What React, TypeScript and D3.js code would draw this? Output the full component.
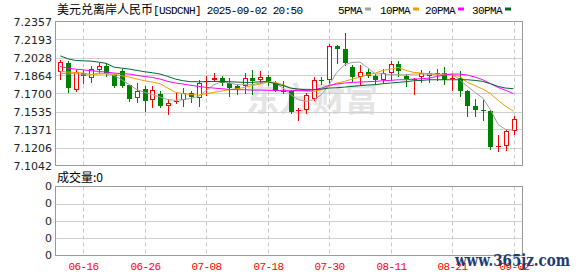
import React from 'react';
import * as d3 from 'd3';

const dates = [
  '06-11','06-12','06-13','06-16','06-17','06-18','06-19','06-20','06-23','06-24','06-25','06-26','06-27','06-30',
  '07-01','07-02','07-03','07-04','07-07','07-08','07-09','07-10','07-11','07-14','07-15','07-16','07-17','07-18',
  '07-21','07-22','07-23','07-24','07-25','07-28','07-29','07-30','07-31',
  '08-01','08-04','08-05','08-06','08-07','08-08','08-11','08-12','08-13','08-14','08-15','08-18','08-19','08-20',
  '08-21','08-22','08-25','08-26','08-27','08-28','08-29','09-01','09-02'
];

const opens = [
  7.1900,7.1980,7.1734,7.1886,7.1840,7.1910,7.1952,7.1864,7.1901,7.1773,
  7.1658,7.1740,7.1640,7.1698,7.1582,7.1618,7.1637,7.1704,7.1658,7.1804,
  7.1819,7.1840,7.1795,7.1765,7.1770,7.1840,7.1819,7.1850,7.1795,7.1725,
  7.1719,7.1537,7.1552,7.1652,7.1825,7.1819,7.2134,7.2104,7.1946,7.1850,
  7.1895,7.1861,7.1825,7.1886,7.1971,7.1861,7.1819,7.1846,7.1855,7.1880,
  7.1891,7.1831,7.1840,7.1719,7.1588,7.1552,7.1537,7.1209,7.1224,7.1355
];
const highs = [
  7.2007,7.1992,7.1910,7.1916,7.1952,7.1977,7.1977,7.1877,7.1925,7.1780,
  7.1795,7.1764,7.1764,7.1719,7.1649,7.1704,7.1750,7.1719,7.1825,7.1861,
  7.1891,7.1855,7.1840,7.1786,7.1884,7.1916,7.1901,7.1871,7.1810,7.1810,
  7.1734,7.1567,7.1704,7.1850,7.1850,7.2153,7.2143,7.2255,7.1962,7.1962,
  7.1922,7.1880,7.1922,7.1992,7.1992,7.1880,7.1840,7.1910,7.1901,7.1922,
  7.1941,7.1871,7.1901,7.1734,7.1649,7.1643,7.1546,7.1324,7.1370,7.1497
];
const lows = [
  7.1834,7.1709,7.1719,7.1795,7.1800,7.1886,7.1861,7.1755,7.1761,7.1628,
  7.1618,7.1537,7.1577,7.1577,7.1513,7.1613,7.1582,7.1618,7.1582,7.1688,
  7.1810,7.1780,7.1679,7.1695,7.1707,7.1698,7.1795,7.1780,7.1719,7.1704,
  7.1522,7.1461,7.1522,7.1643,7.1789,7.1795,7.1977,7.1962,7.1810,7.1789,
  7.1850,7.1789,7.1800,7.1825,7.1861,7.1770,7.1698,7.1800,7.1800,7.1825,
  7.1789,7.1728,7.1673,7.1497,7.1497,7.1461,7.1194,7.1173,7.1188,7.1334
];
const closes = [
  7.1986,7.1750,7.1895,7.1855,7.1922,7.1952,7.1877,7.1764,7.1764,7.1652,
  7.1725,7.1634,7.1731,7.1582,7.1613,7.1631,7.1704,7.1668,7.1795,7.1816,
  7.1840,7.1795,7.1750,7.1745,7.1843,7.1816,7.1850,7.1816,7.1725,7.1709,
  7.1527,7.1546,7.1682,7.1825,7.1813,7.2134,7.2110,7.1982,7.1850,7.1895,
  7.1861,7.1819,7.1891,7.1971,7.1901,7.1834,7.1831,7.1891,7.1891,7.1891,
  7.1825,7.1840,7.1719,7.1588,7.1546,7.1540,7.1209,7.1224,7.1361,7.1467
];

const ma5 = [
  7.1886,7.1877,7.1886,7.1871,7.1868,7.1886,7.1880,7.1865,7.1825,7.1780,
  7.1734,7.1710,7.1689,7.1667,7.1643,7.1637,7.1643,7.1655,7.1673,7.1728,
  7.1780,7.1807,7.1795,7.1780,7.1780,7.1780,7.1795,7.1810,7.1795,7.1749,
  7.1689,7.1643,7.1628,7.1643,7.1689,7.1780,7.1892,7.1962,7.1983,7.1986,
  7.1937,7.1877,7.1880,7.1871,7.1871,7.1871,7.1877,7.1877,7.1877,7.1871,
  7.1871,7.1877,7.1825,7.1764,7.1710,7.1658,7.1552,7.1416,7.1370,7.1364
];
const ma10 = [
  7.1901,7.1895,7.1892,7.1886,7.1871,7.1877,7.1880,7.1877,7.1861,7.1849,
  7.1831,7.1816,7.1804,7.1789,7.1749,7.1710,7.1698,7.1689,7.1686,7.1698,
  7.1710,7.1722,7.1734,7.1743,7.1755,7.1771,7.1786,7.1804,7.1801,7.1780,
  7.1749,7.1734,7.1719,7.1719,7.1734,7.1764,7.1795,7.1810,7.1831,7.1849,
  7.1871,7.1886,7.1910,7.1922,7.1937,7.1910,7.1892,7.1886,7.1880,7.1877,
  7.1877,7.1871,7.1855,7.1801,7.1771,7.1740,7.1698,7.1637,7.1582,7.1537
];
const ma20 = [
  7.1946,7.1931,7.1922,7.1916,7.1907,7.1901,7.1895,7.1886,7.1880,7.1877,
  7.1865,7.1855,7.1846,7.1831,7.1810,7.1795,7.1786,7.1774,7.1764,7.1755,
  7.1749,7.1743,7.1737,7.1734,7.1734,7.1731,7.1731,7.1728,7.1728,7.1725,
  7.1725,7.1728,7.1728,7.1734,7.1749,7.1774,7.1786,7.1795,7.1801,7.1804,
  7.1807,7.1810,7.1816,7.1819,7.1825,7.1825,7.1831,7.1834,7.1840,7.1855,
  7.1868,7.1877,7.1877,7.1868,7.1849,7.1825,7.1789,7.1755,7.1728,7.1698
];
const ma30 = [
  7.2043,7.2016,7.2001,7.1998,7.1995,7.1986,7.1974,7.1940,7.1931,7.1922,
  7.1910,7.1898,7.1889,7.1877,7.1855,7.1831,7.1816,7.1807,7.1807,7.1807,
  7.1810,7.1810,7.1807,7.1804,7.1801,7.1801,7.1807,7.1807,7.1789,7.1771,
  7.1749,7.1740,7.1734,7.1734,7.1740,7.1749,7.1752,7.1758,7.1764,7.1771,
  7.1777,7.1780,7.1789,7.1795,7.1801,7.1807,7.1816,7.1819,7.1825,7.1825,
  7.1825,7.1825,7.1825,7.1825,7.1819,7.1810,7.1789,7.1764,7.1749,7.1743
];

const priceTicks = [7.2357, 7.2193, 7.2028, 7.1864, 7.1700, 7.1535, 7.1371, 7.1206, 7.1042];
const xTickLabels = ['06-16', '06-26', '07-08', '07-18', '07-30', '08-11', '08-21', '09-02'];
const volTickLabels = ['0', '0', '0', '0', '0'];
const legendNames = ['5PMA', '10PMA', '20PMA', '30PMA'];
const legendColors = ['#a0a0a0', '#f0a000', '#ff00ff', '#006633'];
const titleCn = '美元兑离岸人民币';
const titleCode = '[USDCNH] 2025-09-02 20:50';
const volumeLabel = '成交量:0';

const MONO = '"Liberation Mono", "DejaVu Sans Mono", monospace';
const SANS = '"DejaVu Sans", Verdana, sans-serif';
const CJK = '"Noto Sans CJK SC", "Noto Sans", sans-serif';

export default function App() {
  const W = 578, H = 276;
  const L = 55.5, R = 522.5, T = 21.5, B = 165.5;
  const VT = 186.5, VB = 255.5;

  const x = d3.scalePoint<string>().domain(dates).range([60.3, 513.5]);
  const y = d3.scaleLinear().domain([7.1042, 7.2357]).range([B, T]);
  const vy = d3.scaleLinear().domain([0, volTickLabels.length - 1]).range([VB, VT]);
  const px = (d: string) => Math.round(x(d) as number);

  const line = d3.line<number>()
    .x((_, i) => (x(dates[i]) as number))
    .y((v) => y(v));

  const mas = [ma5, ma10, ma20, ma30];
  const legendX = [338, 380, 425, 472];
  const legendW = [24, 30, 30, 30];

  return (
    <svg width={W} height={H} style={{ position: 'absolute', left: 0, top: 0, background: '#fff' }}>
      <rect x={0} y={0} width={W} height={H} fill="#fff" />
      {/* title */}
      <text x={57} y={14} fontSize={12} fill="#000">
        <tspan fontFamily={CJK}>{titleCn}</tspan>
        <tspan fontFamily={MONO} fontSize={11} letterSpacing={-0.62}>{titleCode}</tspan>
      </text>
      {/* legend */}
      {legendNames.map((n, i) => (
        <g key={n}>
          <text x={legendX[i]} y={14} fontFamily={MONO} fontSize={11} letterSpacing={-0.62} fill="#000">{n}</text>
          <rect x={legendX[i] + legendW[i] + 3} y={7.5} width={6} height={3} fill={legendColors[i]} />
        </g>
      ))}

      {/* watermark */}
      <text x={246} y={111} fontFamily={CJK} fontWeight={700} fontSize={33} fill="#e4e4e4" letterSpacing={0}>东方财富</text>

      {/* price grid */}
      {priceTicks.slice(1, -1).map((t) => (
        <line key={'h' + t} x1={L} x2={R} y1={Math.round(y(t)) + 0.5} y2={Math.round(y(t)) + 0.5} stroke="#d0d0d0" />
      ))}
      {xTickLabels.map((d) => (
        <line key={'v' + d} x1={px(d) + 0.5} x2={px(d) + 0.5} y1={T} y2={B} stroke="#c8c8c8" strokeDasharray="4,3" />
      ))}
      {/* volume grid */}
      {volTickLabels.map((_, i) => (i > 0 && i < volTickLabels.length - 1 ? (
        <line key={'vh' + i} x1={L} x2={R} y1={Math.round(vy(i)) + 0.5} y2={Math.round(vy(i)) + 0.5} stroke="#d0d0d0" />
      ) : null))}
      {xTickLabels.map((d) => (
        <line key={'vv' + d} x1={px(d) + 0.5} x2={px(d) + 0.5} y1={VT} y2={VB} stroke="#c8c8c8" strokeDasharray="4,3" />
      ))}

      {/* candles */}
      {dates.map((d, i) => {
        const o = opens[i], c = closes[i], h = highs[i], l = lows[i];
        const up = c >= o;
        const p = px(d);
        const top = Math.round(y(Math.max(o, c)));
        const bot = Math.round(y(Math.min(o, c)));
        const color = up ? '#ff0000' : '#008000';
        const wick = (
          <line x1={p + 0.5} x2={p + 0.5} y1={Math.round(y(h))} y2={Math.round(y(l)) + 1} stroke={color} />
        );
        if (!up || bot - top <= 2) {
          return (
            <g key={d}>
              {wick}
              <rect x={p - 2} y={top} width={5} height={Math.max(1, bot - top)} fill={color} />
            </g>
          );
        }
        return (
          <g key={d}>
            {wick}
            <rect x={p - 1.5} y={top + 0.5} width={4} height={bot - top - 1} fill="#fff" stroke={color} />
          </g>
        );
      })}

      {/* moving averages */}
      {mas.map((m, k) => (
        <path key={'ma' + k} d={line(m) || ''} fill="none" stroke={legendColors[k]} strokeWidth={1} />
      ))}

      {/* borders */}
      <rect x={L} y={T} width={R - L} height={B - T} fill="none" stroke="#999" />
      <rect x={L} y={VT} width={R - L} height={VB - VT} fill="none" stroke="#999" />

      {/* price labels */}
      {priceTicks.map((t) => (
        <text key={'pl' + t} x={52} y={y(t) + 1} textAnchor="end" dominantBaseline="central" fontFamily={SANS} fontSize={11} fill="#222">{t.toFixed(4)}</text>
      ))}
      {/* volume labels */}
      <text x={57} y={182} fontFamily={CJK} fontSize={12} fill="#000">{volumeLabel}</text>
      {volTickLabels.map((v, i) => (
        <text key={'vl' + i} x={52} y={vy(i)} textAnchor="end" dominantBaseline="central" fontFamily={SANS} fontSize={11} fill="#222">{v}</text>
      ))}
      {/* x labels */}
      {xTickLabels.map((d) => (
        <text key={'xl' + d} x={px(d) + 0.5} y={270} textAnchor="middle" fontFamily={MONO} fontSize={11} letterSpacing={-0.62} fill="#ff0000">{d}</text>
      ))}

      {/* site watermark */}
      <text x={455} y={266} fontFamily='"DejaVu Serif", serif' fontWeight={700} fontSize={16} fill="#1c3c70" textLength={115} lengthAdjust="spacingAndGlyphs">www.365jz.com</text>
    </svg>
  );
}
